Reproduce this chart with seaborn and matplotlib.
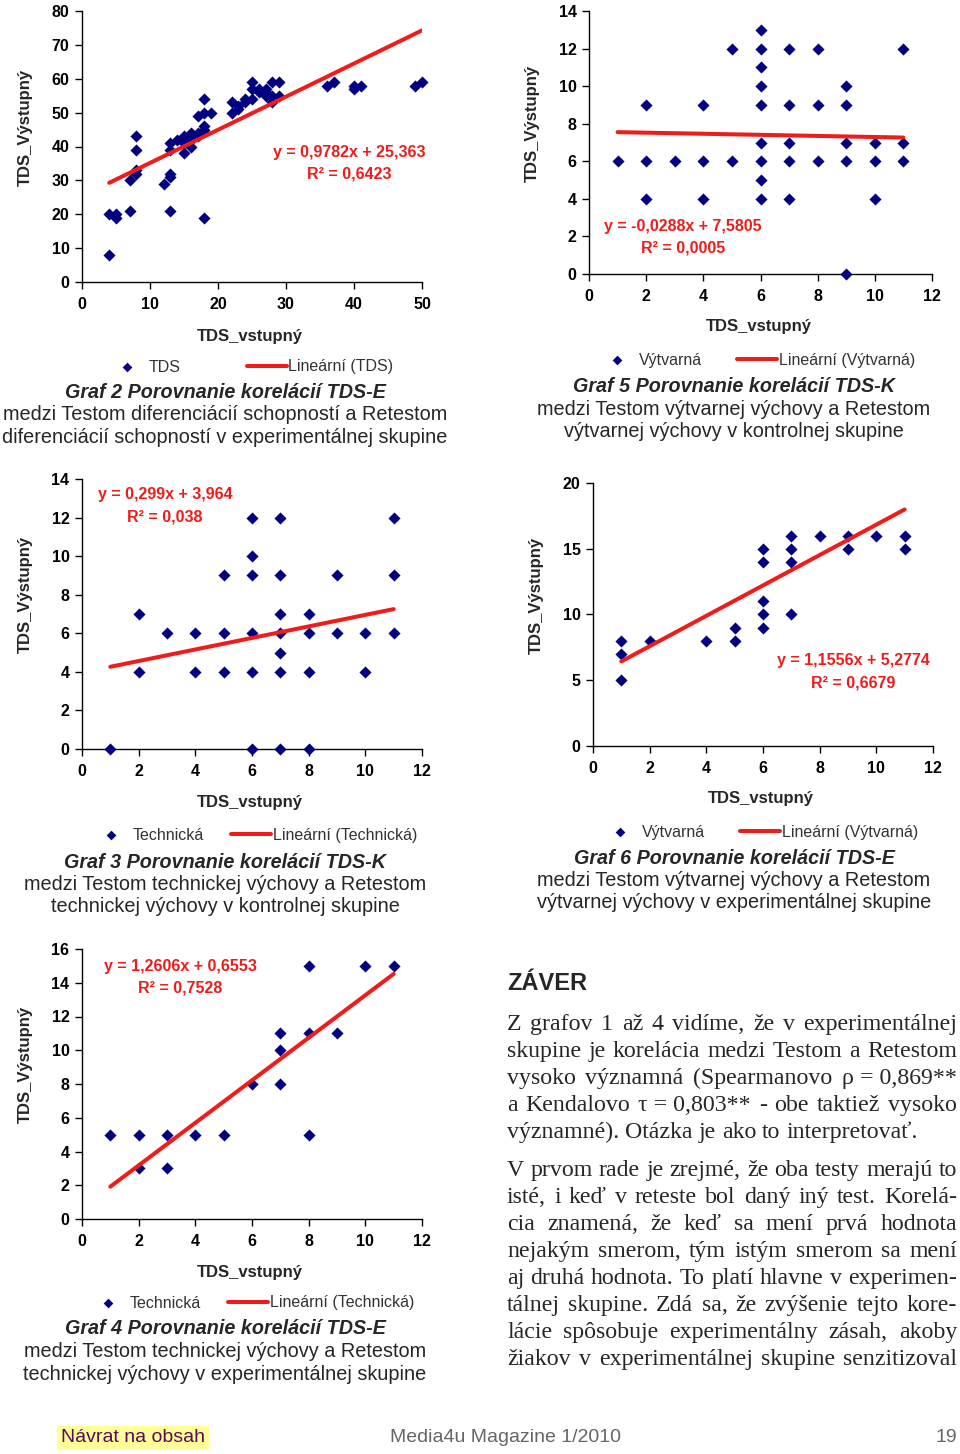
import numpy as np
import pandas as pd
import matplotlib
matplotlib.use("Agg")
import matplotlib.pyplot as plt
import seaborn as sns

# ---- data ----
# Graf 2 (TDS, experimental group)
g2_x = [4, 4, 5, 5, 7, 7, 8, 8, 8, 8,
        12, 13, 13, 13, 13, 13, 14, 15, 15, 15, 16, 16, 16, 17, 17, 17, 18, 18, 18, 18, 18, 19,
        22, 22, 23, 23, 24, 24, 25, 25, 25, 26, 26, 27, 27, 27, 28, 28, 28, 29, 29,
        36, 37, 40, 40, 41, 49, 50]
g2_y = [8, 20, 19, 20, 21, 30, 32, 33, 39, 43,
        29, 21, 31, 32, 39, 41, 42, 38, 43, 41, 40, 42, 44, 43, 44, 49, 19, 45, 46, 50, 54, 50,
        50, 53, 51, 52, 53, 54, 54, 59, 57, 56, 57, 55, 56, 57, 53, 55, 59, 55, 59,
        58, 59, 57, 58, 58, 58, 59]
g2_fit = (0.9782, 25.363, 0.6423)

# Graf 5 (Výtvarná, control group)
g5_x = [1, 2, 2, 2, 3, 4, 4, 4, 5, 5,
        6, 6, 6, 6, 6, 6, 6, 6, 6,
        7, 7, 7, 7, 7, 8, 8, 8, 9, 9, 9, 9, 9, 10, 10, 10, 11, 11, 11]
g5_y = [6, 9, 6, 4, 6, 9, 6, 4, 12, 6,
        13, 12, 11, 10, 9, 7, 6, 5, 4,
        12, 9, 7, 6, 4, 12, 9, 6, 10, 9, 7, 6, 0, 7, 6, 4, 12, 7, 6]
g5_fit = (-0.0288, 7.5805, 0.0005)

# Graf 3 (Technická, control group)
g3_x = [1, 2, 2, 3, 4, 4, 5, 5, 5, 6, 6, 6, 6, 6, 6,
        7, 7, 7, 7, 7, 7, 7, 8, 8, 8, 8, 9, 9, 10, 10, 11, 11, 11]
g3_y = [0, 7, 4, 6, 6, 4, 9, 6, 4, 12, 10, 9, 6, 4, 0,
        12, 9, 7, 6, 5, 4, 0, 7, 6, 4, 0, 9, 6, 6, 4, 12, 9, 6]
g3_fit = (0.299, 3.964, 0.038)

# Graf 6 (Výtvarná, experimental group)
g6_x = [1, 1, 1, 2, 4, 5, 5, 6, 6, 6, 6, 6, 7, 7, 7, 7, 8, 9, 9, 10, 11, 11]
g6_y = [8, 7, 5, 8, 8, 9, 8, 15, 14, 11, 10, 9, 16, 15, 14, 10, 16, 16, 15, 16, 16, 15]
g6_fit = (1.1556, 5.2774, 0.6679)

# Graf 4 (Technická, experimental group)
g4_x = [1, 2, 2, 3, 3, 4, 5, 6, 7, 7, 7, 8, 8, 8, 9, 10, 11]
g4_y = [5, 5, 3, 5, 3, 5, 5, 8, 11, 10, 8, 15, 11, 5, 11, 15, 15]
g4_fit = (1.2606, 0.6553, 0.7528)

captions = {
    'g2': ['Graf 2 Porovnanie korelácií TDS-E',
           'medzi Testom diferenciácií schopností a Retestom',
           'diferenciácií schopností v experimentálnej skupine'],
    'g5': ['Graf 5 Porovnanie korelácií TDS-K',
           'medzi Testom výtvarnej výchovy a Retestom',
           'výtvarnej výchovy v kontrolnej skupine'],
    'g3': ['Graf 3 Porovnanie korelácií TDS-K',
           'medzi Testom technickej výchovy a Retestom',
           'technickej výchovy v kontrolnej skupine'],
    'g6': ['Graf 6 Porovnanie korelácií TDS-E',
           'medzi Testom výtvarnej výchovy a Retestom',
           'výtvarnej výchovy v experimentálnej skupine'],
    'g4': ['Graf 4 Porovnanie korelácií TDS-E',
           'medzi Testom technickej výchovy a Retestom',
           'technickej výchovy v experimentálnej skupine'],
}

heading = 'ZÁVER'
para_lines = [
    ('Z grafov 1 až 4 vidíme, že v experimentálnej', True),
    ('skupine je korelácia medzi Testom a Retestom', True),
    ('vysoko významná (Spearmanovo ρ\u00a0=\u00a00,869**', True),
    ('a Kendalovo τ\u00a0=\u00a00,803** - obe taktiež vysoko', True),
    ('významné). Otázka je ako to interpretovať.', False),
    ('V prvom rade je zrejmé, že oba testy merajú to', True),
    ('isté, i keď v reteste bol daný iný test. Korelá-', True),
    ('cia znamená, že keď sa mení prvá hodnota', True),
    ('nejakým smerom, tým istým smerom sa mení', True),
    ('aj druhá hodnota. To platí hlavne v experimen-', True),
    ('tálnej skupine. Zdá sa, že zvýšenie tejto kore-', True),
    ('lácie spôsobuje experimentálny zásah, akoby', True),
    ('žiakov v experimentálnej skupine senzitizoval', True),
]

sns.set_style("ticks")
plt.rcParams['font.family'] = ['Liberation Sans', 'DejaVu Sans']

W, H = 960, 1454
fig = plt.figure(figsize=(W / 100, H / 100), dpi=100)
renderer = fig.canvas.get_renderer()
NAVY = '#000080'
RED = '#f01c1c'
LEG_FS = 11.5


def fy(y):
    return 1 - y / H


def fmt(v):
    return str(v).replace('.', ',')


def text_width(s, **kw):
    t = fig.text(0, 0, s, **kw)
    w = t.get_window_extent(renderer).width
    t.remove()
    return w


def draw_chart(box, xs, ys, fit, series, xlim, ylim, xstep, ystep,
               eq_xy, leg_xy, cap_key, cap_x, cap_y):
    left, top, right, bottom = box
    ax = fig.add_axes([left / W, fy(bottom), (right - left) / W, (bottom - top) / H])
    df = pd.DataFrame({'x': xs, 'y': ys})
    sns.scatterplot(data=df, x='x', y='y', ax=ax, marker='D', s=38, color=NAVY,
                    linewidth=0, clip_on=False, zorder=3, label=series)
    slope, icpt, r2 = fit
    lx = np.array([min(xs), max(xs)], dtype=float)
    sns.lineplot(x=lx, y=slope * lx + icpt, ax=ax, color=RED, linewidth=2.9,
                 zorder=4, label=f'Lineární ({series})')

    ax.set_xlim(*xlim)
    ax.set_ylim(*ylim)
    ax.set_xticks(np.arange(xlim[0], xlim[1] + 0.1, xstep))
    ax.set_yticks(np.arange(ylim[0], ylim[1] + 0.1, ystep))
    ax.tick_params(axis='both', direction='out', length=5, width=1, labelsize=11.5, colors='black')
    ax.tick_params(axis='x', pad=6)
    ax.tick_params(axis='y', pad=4)
    for lbl in ax.get_xticklabels() + ax.get_yticklabels():
        lbl.set_fontweight('bold')
    sns.despine(ax=ax)
    for sp in ('left', 'bottom'):
        ax.spines[sp].set_linewidth(1)
        ax.spines[sp].set_color('black')

    ax.set_xlabel('TDS_vstupný', fontsize=12, fontweight='bold')
    ax.set_ylabel('TDS_Výstupný', fontsize=12, fontweight='bold')
    ax.xaxis.label.set_va('center')
    ax.yaxis.label.set_va('center')
    w = right - left
    h = bottom - top
    ax.xaxis.set_label_coords(0.494, -0.2)
    ax.yaxis.set_label_coords(-57 / w, 0.572)

    ex, ey = eq_xy
    ax.text((ex - left) / w, (bottom - ey) / h, f'y = {fmt(slope)}x + {fmt(icpt)}',
            transform=ax.transAxes, ha='center', va='center', color=RED,
            fontsize=11.5, fontweight='bold')
    ax.text((ex - left) / w, (bottom - ey - 22) / h, f'R² = {fmt(r2)}',
            transform=ax.transAxes, ha='center', va='center', color=RED,
            fontsize=11.5, fontweight='bold')

    # Excel-like legend: first column is about 140 px wide
    em = LEG_FS * 100 / 72
    tw = text_width(series, fontsize=LEG_FS)
    colsp = max(0.5, (140 - 2.5 * em - 0.1 * em - tw) / em)
    ax.legend(loc='center', bbox_to_anchor=(leg_xy[0] / W, fy(leg_xy[1])),
              bbox_transform=fig.transFigure, ncol=2, frameon=False, fontsize=LEG_FS,
              handlelength=2.5, handletextpad=0.1, columnspacing=colsp,
              markerscale=0.8, labelcolor='#333333', borderpad=0, borderaxespad=0)

    l1, l2, l3 = captions[cap_key]
    fig.text(cap_x / W, fy(cap_y), l1, ha='center', va='center', fontsize=14.2,
             fontweight='bold', fontstyle='italic')
    fig.text(cap_x / W, fy(cap_y + 22.5), l2, ha='center', va='center', fontsize=14.3)
    fig.text(cap_x / W, fy(cap_y + 45), l3, ha='center', va='center', fontsize=14.3)
    return ax


draw_chart((82, 11, 422, 282), g2_x, g2_y, g2_fit, 'TDS', (0, 50), (0, 80), 10, 10,
           (349, 152), (250, 367), 'g2', 225, 392)
draw_chart((589, 11, 932, 274), g5_x, g5_y, g5_fit, 'Výtvarná', (0, 12), (0, 14), 2, 2,
           (683, 226), (756, 360), 'g5', 734, 387)
draw_chart((82, 479, 422, 749), g3_x, g3_y, g3_fit, 'Technická', (0, 12), (0, 14), 2, 2,
           (165, 495), (254, 835), 'g3', 225, 862)
draw_chart((593, 483, 933, 746), g6_x, g6_y, g6_fit, 'Výtvarná', (0, 12), (0, 20), 2, 5,
           (853, 661), (759, 832), 'g6', 734, 858)
draw_chart((82, 949, 422, 1219), g4_x, g4_y, g4_fit, 'Technická', (0, 12), (0, 16), 2, 2,
           (180, 966), (251, 1303), 'g4', 225, 1329)

# conclusion text, justified by hand
fig.text(507 / W, fy(984), heading, ha='left', va='center', fontsize=17, fontweight='bold')

X0, X1 = 507, 957
line_y = [1023, 1050, 1077, 1104, 1131, 1169, 1196, 1223, 1250, 1277, 1304, 1331, 1358]
for (line, just), y in zip(para_lines, line_y):
    words = line.split(' ')
    texts = [fig.text(0, fy(y + 7), wd, ha='left', va='baseline', fontsize=17.2,
                      family='Liberation Serif') for wd in words]
    widths = [t.get_window_extent(renderer).width for t in texts]
    if just and len(words) > 1:
        gap = (X1 - X0 - sum(widths)) / (len(words) - 1)
    else:
        gap = 5.9
    x = X0
    for t, wd in zip(texts, widths):
        t.set_x(x / W)
        x += wd + gap

# footer
fig.text(133 / W, fy(1438), 'Návrat na obsah', ha='center', va='center', fontsize=14,
         color='#5c0a55', bbox=dict(boxstyle='square,pad=0.2', fc='#ffff99', ec='none'))
fig.text(506 / W, fy(1438), 'Media4u Magazine 1/2010', ha='center', va='center',
         fontsize=14, color='#666666')
fig.text(957 / W, fy(1438), '19', ha='right', va='center', fontsize=14, color='#666666')

fig.savefig('out.png', dpi=100)
